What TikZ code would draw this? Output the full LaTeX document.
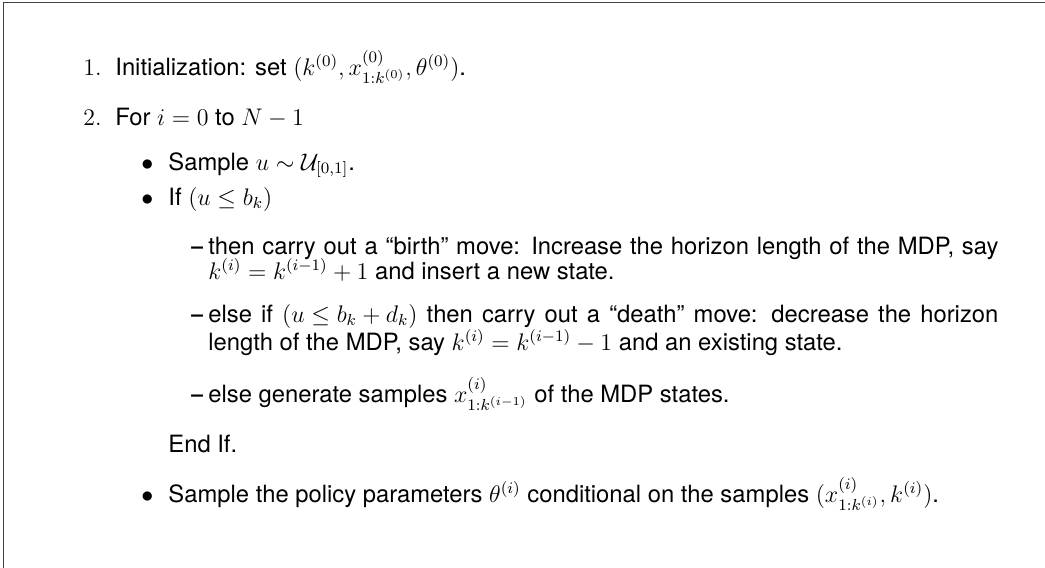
\documentclass[tikz,border=0pt]{standalone}
\usepackage{fontspec}
\setsansfont{TeX Gyre Heros}
\begin{document}
\begin{tikzpicture}[x=0.5pt,y=-0.5pt,
  txt/.style={anchor=base west, inner sep=0pt, font=\sffamily\fontsize{11.9}{14.3}\selectfont},
  lbl/.style={anchor=base west, inner sep=0pt, font=\rmfamily\fontsize{11.9}{14.3}\selectfont},
  dashlbl/.style={anchor=base west, inner sep=0pt, font=\sffamily\bfseries\fontsize{10.5}{12}\selectfont},
  frameline/.style={draw=black!75, line width=0.75pt}]
\useasboundingbox (0,0) rectangle (1045,568);
\draw[frameline] (3.5,568) -- (3.5,2.5) -- (1045,2.5);
% step 1
\node[lbl] (n1) at (83,75) {1.};
\node[txt] (t1) at (115,75) {Initialization: set $(k^{(0)},x^{(0)}_{1:k^{(0)}},\theta^{(0)})$.};
% step 2
\node[lbl] (n2) at (83,125) {2.};
\node[txt] (t2) at (115,125) {For $i=0$ to $N-1$};
% bullets
\node[txt] (b1) at (141,170) {$\bullet$};
\node[txt] (s1) at (168,170) {Sample $u\sim\mathcal{U}_{[0,1]}$.};
\node[txt] (b2) at (141,205) {$\bullet$};
\node[txt] (s2) at (168,205) {If $(u\le b_k)$};
% dashes
\node[dashlbl] (d1) at (191,254) {\raisebox{0.4pt}{–}};
\node[txt] (d1a) at (208,254) {\makebox[395pt][s]{then carry out a “birth” move: Increase the horizon length of the MDP, say}};
\node[txt] (d1b) at (208,279) {$k^{(i)}=k^{(i-1)}+1$ and insert a new state.};
\node[dashlbl] (d2) at (191,322) {\raisebox{0.4pt}{–}};
\node[txt] (d2a) at (208,322) {\makebox[395pt][s]{else if \mbox{$(u\le b_k+d_k)$} then carry out a “death” move: decrease the horizon}};
\node[txt] (d2b) at (208,350) {length of the MDP, say $k^{(i)}=k^{(i-1)}-1$ and an existing state.};
\node[dashlbl] (d3) at (191,402) {\raisebox{0.4pt}{–}};
\node[txt] (d3a) at (208,402) {else generate samples $x^{(i)}_{1:k^{(i-1)}}$ of the MDP states.};
% end if
\node[txt] (e1) at (168,452) {End If.};
\node[txt] (b3) at (141,502) {$\bullet$};
\node[txt] (s3) at (168,502) {Sample the policy parameters $\theta^{(i)}$ conditional on the samples $(x^{(i)}_{1:k^{(i)}},k^{(i)})$.};
\end{tikzpicture}
\end{document}
